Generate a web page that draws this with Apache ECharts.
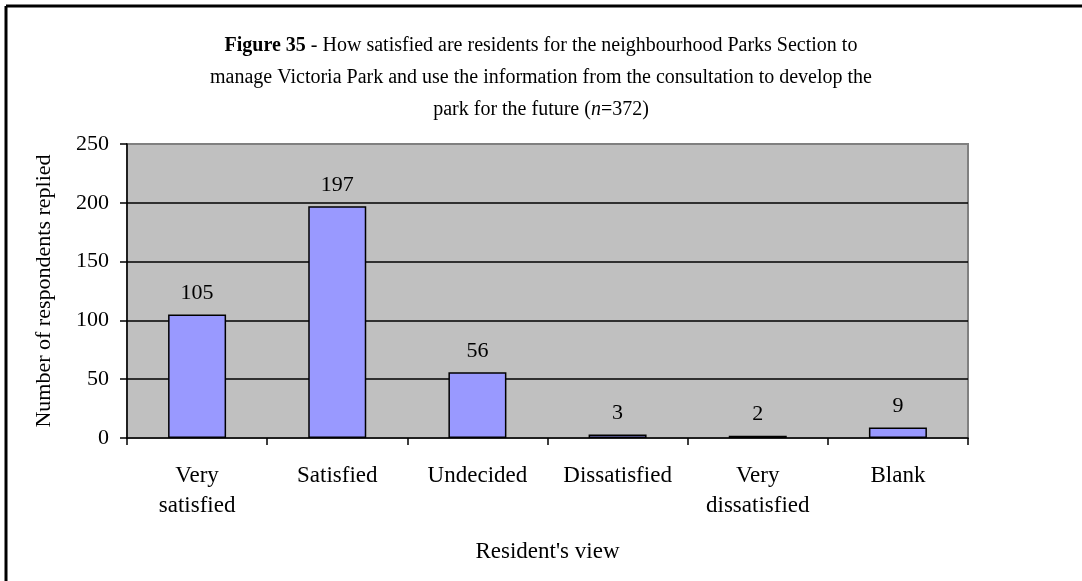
<!DOCTYPE html>
<html>
<head>
<meta charset="utf-8">
<script src="https://cdn.jsdelivr.net/npm/echarts@6/dist/echarts.min.js"></script>
<style>
html,body{margin:0;padding:0;background:#fff;}
#chart{width:1082px;height:581px;}
</style>
</head>
<body>
<div id="chart"></div>
<script>
const categories = ['Very\nsatisfied', 'Satisfied', 'Undecided', 'Dissatisfied', 'Very\ndissatisfied', 'Blank'];
const respondents = [105, 197, 56, 3, 2, 9];
const yTicks = { min: 0, max: 250, interval: 50 };

const FONT = 'Liberation Serif';
const TS = 20;
const chart = echarts.init(document.getElementById('chart'), null, { renderer: 'canvas' });
chart.setOption({
  backgroundColor: '#ffffff',
  animation: false,
  title: {
    left: 'center',
    top: 25,
    text: '{b|Figure 35}{n| - How satisfied are residents for the neighbourhood Parks Section to}\n{n|manage Victoria Park and use the information from the consultation to develop the}\n{n|park for the future (}{i|n}{n|=372)}',
    textStyle: {
      fontFamily: FONT,
      fontSize: TS,
      fontWeight: 'normal',
      color: '#000',
      lineHeight: 32,
      rich: {
        b: { fontFamily: FONT, fontSize: TS, fontWeight: 'bold', color: '#000', lineHeight: 32 },
        n: { fontFamily: FONT, fontSize: TS, fontWeight: 'normal', color: '#000', lineHeight: 32 },
        i: { fontFamily: FONT, fontSize: TS, fontWeight: 'normal', fontStyle: 'italic', color: '#000', lineHeight: 32 }
      }
    }
  },
  graphic: [
    { type: 'line', shape: { x1: 6, y1: 6, x2: 6, y2: 581 }, style: { stroke: '#000', lineWidth: 3 } },
    { type: 'line', shape: { x1: 6, y1: 6, x2: 1082, y2: 6 }, style: { stroke: '#000', lineWidth: 3 } }
  ],
  grid: {
    left: 127, right: 114, top: 144, bottom: 143,
    show: true, backgroundColor: '#c0c0c0', borderColor: '#808080', borderWidth: 2,
    containLabel: false
  },
  xAxis: {
    type: 'category',
    data: categories,
    boundaryGap: true,
    name: "Resident's view",
    nameLocation: 'middle',
    nameGap: 102,
    nameTextStyle: { fontFamily: FONT, fontSize: 23, color: '#000' },
    axisLine: { lineStyle: { color: '#000', width: 1.5 } },
    axisTick: { show: true, interval: 0, alignWithLabel: false, length: 7, lineStyle: { color: '#000', width: 1.5 } },
    axisLabel: { interval: 0, margin: 23, fontFamily: FONT, fontSize: 23, color: '#000', lineHeight: 30 },
    splitLine: { show: false }
  },
  yAxis: {
    type: 'value',
    min: yTicks.min, max: yTicks.max, interval: yTicks.interval,
    name: 'Number of respondents replied',
    nameLocation: 'middle',
    nameGap: 72,
    nameTextStyle: { fontFamily: FONT, fontSize: 22, color: '#000' },
    axisLine: { show: true, lineStyle: { color: '#000', width: 1.5 } },
    axisTick: { show: true, length: 7, lineStyle: { color: '#000', width: 1.5 } },
    axisLabel: { margin: 18, fontFamily: FONT, fontSize: 22, color: '#000' },
    splitLine: { show: true, showMinLine: false, showMaxLine: false, lineStyle: { color: '#000', width: 1.5 } }
  },
  series: [{
    type: 'bar',
    data: respondents,
    barWidth: 58,
    itemStyle: { color: '#9999ff', borderColor: '#000', borderWidth: 1.5 },
    label: { show: true, position: 'top', distance: 10, fontFamily: FONT, fontSize: 22, color: '#000' }
  }]
});
</script>
</body>
</html>
